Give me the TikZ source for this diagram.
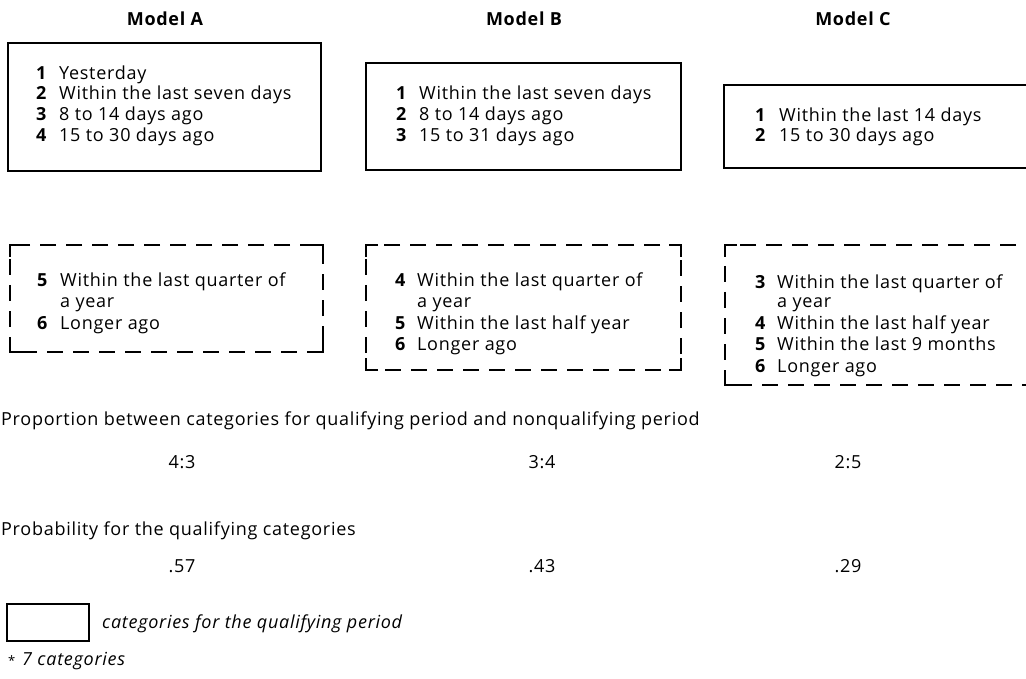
\documentclass[tikz,border=0pt]{standalone}
\usepackage{fontspec}
\setmainfont{Open Sans}[LetterSpace=4]
\newcommand\nqcorners[4]{%
  \draw[corner] (#1+12,#2) -- (#1,#2) -- (#1,#2+12);
  \draw[corner] (#3-12,#2) -- (#3,#2) -- (#3,#2+12);
  \draw[corner] (#1+12,#4) -- (#1,#4) -- (#1,#4-12);
  \draw[corner] (#3-12,#4) -- (#3,#4) -- (#3,#4-12);}
\begin{document}
\fontsize{18}{21}\selectfont
\begin{tikzpicture}[x=1pt,y=-1pt,
  title/.style={font=\bfseries,anchor=base,inner sep=0pt},
  num/.style={font=\bfseries,anchor=base west,inner sep=0pt},
  item/.style={anchor=base west,inner sep=0pt},
  plain/.style={anchor=base west,inner sep=0pt},
  val/.style={anchor=base,inner sep=0pt},
  qual/.style={draw,line width=1.8pt,line join=miter},
  nonqual/.style={draw,line width=1.6pt,dash pattern=on 16pt off 10pt,dash phase=-14pt},
  corner/.style={draw,line width=1.6pt,line join=miter},
  legendbox/.style={draw,line width=2.8pt}]
\useasboundingbox (0,0) rectangle (1026,679);
\fill[white] (0,0) rectangle (1026,679);

% titles
\node[title] (tA) at (165,26) {Model A};
\node[title] (tB) at (524,26) {Model B};
\node[title] (tC) at (853,26) {Model C};

% solid boxes
\draw[qual] (8,43) rectangle (321,171);
\draw[qual] (366,63) rectangle (681,170);
\draw[qual] (1027,85) -| (724,168) -- (1027,168);

% Model A items
\node[num] (a1n) at (36,80) {1}; \node[item] (a1) at (59,80) {Yesterday};
\node[num] (a2n) at (36,100) {2}; \node[item] (a2) at (59,100) {Within the last seven days};
\node[num] (a3n) at (36,121) {3}; \node[item] (a3) at (59,121) {8 to 14 days ago};
\node[num] (a4n) at (36,142) {4}; \node[item] (a4) at (59,142) {15 to 30 days ago};

% Model B items
\node[num] (b1n) at (396,100) {1}; \node[item] (b1) at (419,100) {Within the last seven days};
\node[num] (b2n) at (396,121) {2}; \node[item] (b2) at (419,121) {8 to 14 days ago};
\node[num] (b3n) at (396,142) {3}; \node[item] (b3) at (419,142) {15 to 31 days ago};

% Model C items
\node[num] (c1n) at (755,122) {1}; \node[item] (c1) at (779,122) {Within the last 14 days};
\node[num] (c2n) at (755,142) {2}; \node[item] (c2) at (779,142) {15 to 30 days ago};

% dashed boxes
\draw[nonqual] (10,245) rectangle (323,352);
\nqcorners{10}{245}{323}{352}
\draw[nonqual] (366,245) rectangle (681,370);
\nqcorners{366}{245}{681}{370}
\draw[nonqual] (1030,245) -| (725,385) -- (1030,385);
\draw[corner] (737,245) -- (725,245) -- (725,257);
\draw[corner] (737,385) -- (725,385) -- (725,373);

% Model A nonqualifying
\node[num] (a5n) at (37,287) {5}; \node[item] (a5) at (60,287) {Within the last quarter of};
\node[item] (a5b) at (60,308) {a year};
\node[num] (a6n) at (37,330) {6}; \node[item] (a6) at (60,330) {Longer ago};

% Model B nonqualifying
\node[num] (b4n) at (395,287) {4}; \node[item] (b4) at (417,287) {Within the last quarter of};
\node[item] (b4b) at (417,307) {a year};
\node[num] (b5n) at (395,329) {5}; \node[item] (b5) at (417,329) {Within the last half year};
\node[num] (b6n) at (395,350) {6}; \node[item] (b6) at (417,350) {Longer ago};

% Model C nonqualifying
\node[num] (c3n) at (755,288) {3}; \node[item] (c3) at (777,288) {Within the last quarter of};
\node[item] (c3b) at (777,308) {a year};
\node[num] (c4n) at (755,330) {4}; \node[item] (c4) at (777,330) {Within the last half year};
\node[num] (c5n) at (755,350) {5}; \node[item] (c5) at (777,350) {Within the last 9 months};
\node[num] (c6n) at (755,372) {6}; \node[item] (c6) at (777,372) {Longer ago};

% proportion
\node[plain] (prop) at (1,425) {Proportion between categories for qualifying period and nonqualifying period};
\node[val] (pA) at (182,468) {4:3};
\node[val] (pB) at (542,468) {3:4};
\node[val] (pC) at (848,468) {2:5};

% probability
\node[plain] (prob) at (1,535) {Probability for the qualifying categories};
\node[val] (qA) at (182,572) {.57};
\node[val] (qB) at (542,572) {.43};
\node[val] (qC) at (848,572) {.29};

% legend
\draw[legendbox] (7,604) rectangle (89,641);
\node[plain,font=\itshape] (leg) at (102,628) {categories for the qualifying period};
\node[plain,font=\fontsize{13}{13}\selectfont] (star) at (8,665) {*};
\node[plain,font=\itshape] (seven) at (22,665) {7 categories};
\end{tikzpicture}
\end{document}
